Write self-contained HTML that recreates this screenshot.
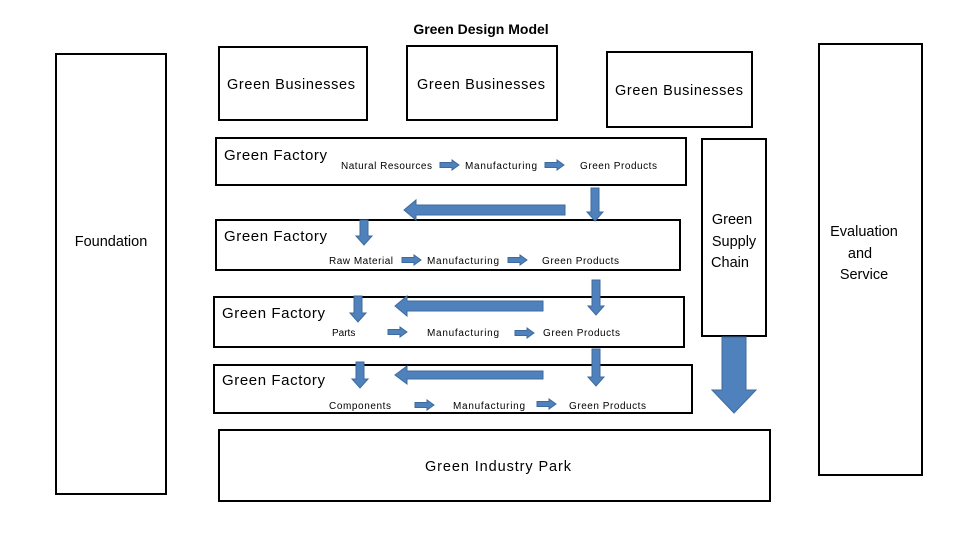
<!DOCTYPE html>
<html><head><meta charset="utf-8"><style>body{margin:0;background:#fff}svg{display:block}text{font-family:"Liberation Sans",sans-serif;fill:#000}</style></head><body>
<svg width="960" height="540" viewBox="0 0 960 540" xmlns="http://www.w3.org/2000/svg">
<defs>
<g id="sr"><path d="M0,-2.5 H12 V-5 L19,0 L12,5 V2.5 H0 Z" fill="#4f81bd" stroke="#3f6b9c" stroke-width="1"/></g>
</defs>
<g fill="none" stroke="#000" stroke-width="2">
<rect x="56" y="54" width="110" height="440"/>
<rect x="219" y="47" width="148" height="73"/>
<rect x="407" y="46" width="150" height="74"/>
<rect x="607" y="52" width="145" height="75"/>
<rect x="216" y="138" width="470" height="47"/>
<rect x="216" y="220" width="464" height="50"/>
<rect x="214" y="297" width="470" height="50"/>
<rect x="214" y="365" width="478" height="48"/>
<rect x="219" y="430" width="551" height="71"/>
<rect x="702" y="139" width="64" height="197"/>
<rect x="819" y="44" width="103" height="431"/>
</g>
<text x="481" y="34" font-size="14" font-weight="bold" text-anchor="middle">Green Design Model</text>
<text x="111" y="246" font-size="14.5" text-anchor="middle">Foundation</text>
<text x="291" y="89" font-size="14.5" text-anchor="middle" textLength="128">Green Businesses</text>
<text x="481" y="89" font-size="14.5" text-anchor="middle" textLength="128">Green Businesses</text>
<text x="679" y="95" font-size="14.5" text-anchor="middle" textLength="128">Green Businesses</text>
<text x="224" y="160" font-size="15" textLength="103">Green Factory</text>
<text x="224" y="241" font-size="15" textLength="103">Green Factory</text>
<text x="222" y="318" font-size="15" textLength="103">Green Factory</text>
<text x="222" y="385" font-size="15" textLength="103">Green Factory</text>
<g font-size="10">
<text x="341" y="169" textLength="91">Natural  Resources</text>
<text x="465" y="169" textLength="72">Manufacturing</text>
<text x="580" y="169" textLength="77">Green Products</text>
<text x="329" y="264" textLength="64">Raw Material</text>
<text x="427" y="264" textLength="72">Manufacturing</text>
<text x="542" y="264" textLength="77">Green Products</text>
<text x="332" y="336">Parts</text>
<text x="427" y="336" textLength="72">Manufacturing</text>
<text x="543" y="336" textLength="77">Green Products</text>
<text x="329" y="409" textLength="62">Components</text>
<text x="453" y="409" textLength="72">Manufacturing</text>
<text x="569" y="409" textLength="77">Green Products</text>
</g>
<text x="425" y="471" font-size="14.5" textLength="146">Green Industry Park</text>
<g font-size="14.5" text-anchor="middle">
<text x="732" y="224">Green</text><text x="734" y="246">Supply</text><text x="730" y="267">Chain</text>
<text x="864" y="236">Evaluation</text><text x="860" y="258">and</text><text x="864" y="279">Service</text>
</g>
<use href="#sr" x="440" y="165"/><use href="#sr" x="545" y="165"/>
<use href="#sr" x="402" y="260"/><use href="#sr" x="508" y="260"/>
<use href="#sr" x="388" y="332"/><use href="#sr" x="515" y="333"/>
<use href="#sr" x="415" y="405"/><use href="#sr" x="537" y="404"/>
<g fill="#4f81bd" stroke="#3f6b9c" stroke-width="1">
<path d="M565,205 H416 V200 L404,210 L416,220 V215 H565 Z"/>
<path d="M591,188 H599 V212 H603 L595,221 L587,212 H591 Z"/>
<path d="M360,220 H368 V236 H372 L364,245 L356,236 H360 Z"/>
<path d="M543,301 H407 V296 L395,306 L407,316 V311 H543 Z"/>
<path d="M592,280 H600 V306 H604 L596,315 L588,306 H592 Z"/>
<path d="M354,296 H362 V313 H366 L358,322 L350,313 H354 Z"/>
<path d="M543,371 H407 V366 L395,375 L407,384 V379 H543 Z"/>
<path d="M592,349 H600 V377 H604 L596,386 L588,377 H592 Z"/>
<path d="M356,362 H364 V379 H368 L360,388 L352,379 H356 Z"/>
<path d="M722,337 H746 V390 H756 L734,413 L712,390 H722 Z"/>
</g>
</svg>
</body></html>
